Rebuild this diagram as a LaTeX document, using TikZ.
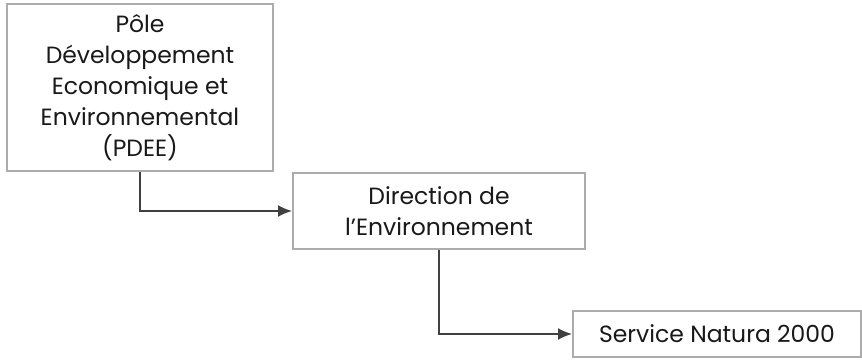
\documentclass[tikz,border=0pt]{standalone}
\usepackage{fontspec}
\setmainfont{Poppins}
\usetikzlibrary{arrows.meta}

\begin{document}
\begin{tikzpicture}
    [x=1pt,y=-1pt,every node/.style={draw=gray!65,line width=2pt,fill=white,align=center,
      font=\fontsize{23.5}{31}\selectfont,text=black!90,inner sep=0pt},
     link/.style={draw=black!75,line width=2pt,-{Latex[length=14pt,width=12pt]}}]
    \useasboundingbox (0,0) rectangle (862,359);
    \node[minimum width=266pt,minimum height=167pt] (pdee) at (140,87.5)
      {Pôle\\Développement\\Economique et\\Environnemental\\(PDEE)};
    \node[minimum width=292pt,minimum height=76pt] (direnv) at (439,211)
      {Direction de\\l’Environnement};
    \node[minimum width=288pt,minimum height=46pt] (natura) at (717,334)
      {Service Natura 2000};
    \draw[link] (pdee.south) |- (direnv.west) ;
    \draw[link] (direnv.south) |- (natura.west) ;
  \end{tikzpicture}
\end{document}
